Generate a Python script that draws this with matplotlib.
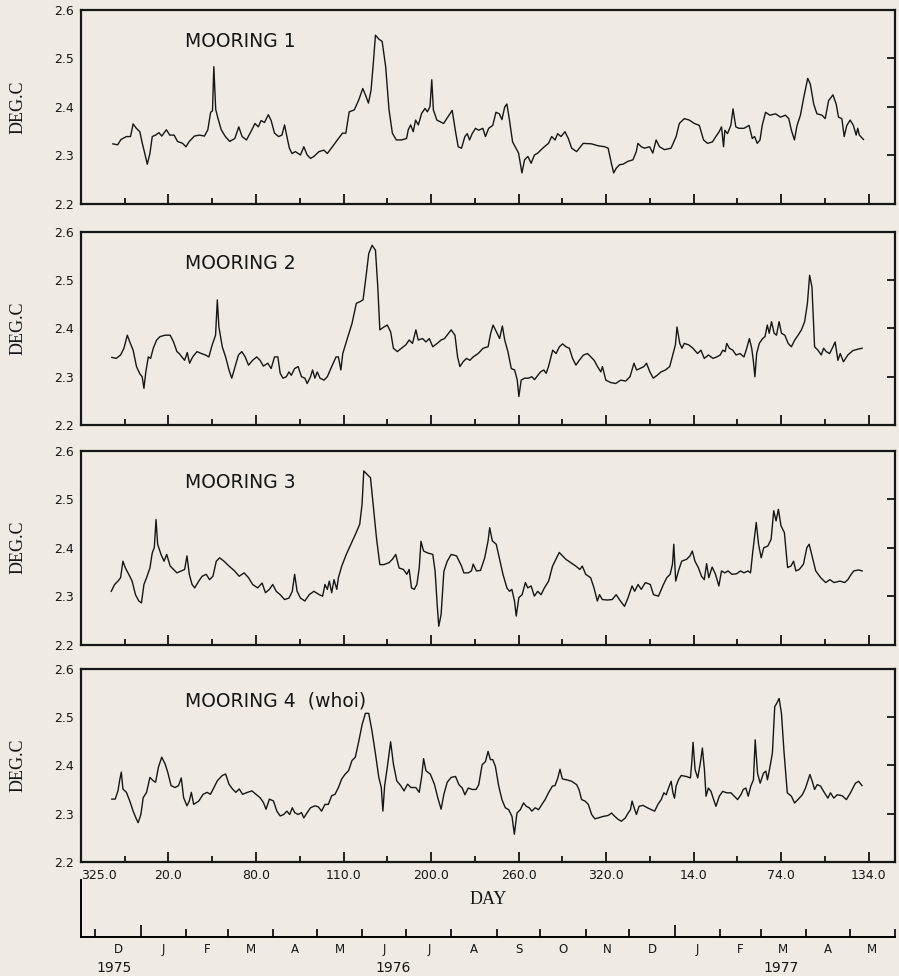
import numpy as np
import pandas as pd
import matplotlib
matplotlib.use("Agg")
import matplotlib.pyplot as plt
from matplotlib.ticker import FixedLocator, NullFormatter
from matplotlib.transforms import blended_transform_factory

# time axis: days counted from day 325 of 1975 (21 Nov 1975)
start = pd.Timestamp("1975-11-21")

# (day, deg C)
mooring1 = [
    (21.9, 2.324), (25.2, 2.322), (27.5, 2.333), (31.2, 2.339), (34.0, 2.339), (35.8, 2.365), (38.0, 2.356),
    (40.4, 2.349), (42.0, 2.326), (43.8, 2.304), (45.5, 2.282), (47.3, 2.304), (48.9, 2.339), (51.2, 2.342),
    (53.5, 2.347), (55.4, 2.340), (58.6, 2.353), (60.9, 2.342), (63.9, 2.342), (66.2, 2.329), (69.7, 2.325),
    (72.0, 2.318), (74.3, 2.329), (77.8, 2.340), (81.2, 2.342), (84.7, 2.340), (87.0, 2.353), (88.9, 2.389),
    (90.2, 2.392), (91.1, 2.483), (92.4, 2.395), (93.9, 2.377), (96.2, 2.353), (99.0, 2.339), (102.0, 2.329),
    (105.5, 2.335), (108.2, 2.359), (110.5, 2.339), (113.5, 2.332), (116.5, 2.349), (119.3, 2.366),
    (121.6, 2.359), (123.5, 2.372), (125.8, 2.368), (128.5, 2.384), (130.4, 2.372), (132.7, 2.346),
    (135.5, 2.339), (137.8, 2.342), (139.6, 2.363), (141.2, 2.339), (142.9, 2.315), (144.7, 2.304),
    (147.0, 2.308), (150.5, 2.301), (152.8, 2.318), (155.1, 2.301), (157.4, 2.294), (159.7, 2.298),
    (163.2, 2.308), (166.6, 2.311), (168.9, 2.304), (172.4, 2.318), (175.8, 2.332), (179.3, 2.346),
    (181.6, 2.346), (183.9, 2.390), (187.4, 2.394), (190.4, 2.414), (193.2, 2.438), (195.0, 2.425),
    (197.1, 2.408), (198.9, 2.435), (200.6, 2.497), (201.9, 2.548), (204.2, 2.540), (206.5, 2.535),
    (208.9, 2.483), (211.2, 2.394), (213.5, 2.346), (216.2, 2.332), (219.7, 2.332), (223.2, 2.335),
    (224.4, 2.353), (226.0, 2.363), (227.8, 2.349), (229.4, 2.373), (231.3, 2.363), (233.6, 2.387),
    (235.9, 2.397), (237.5, 2.390), (239.3, 2.401), (240.5, 2.456), (241.6, 2.394), (244.0, 2.373),
    (248.6, 2.366), (254.5, 2.393), (256.8, 2.349), (258.6, 2.318), (260.9, 2.315), (263.2, 2.339),
    (264.8, 2.345), (266.4, 2.332), (268.2, 2.345), (270.5, 2.356), (272.7, 2.352), (275.5, 2.356),
    (277.3, 2.339), (279.5, 2.356), (282.3, 2.362), (284.5, 2.389), (286.8, 2.386), (288.6, 2.374),
    (290.5, 2.400), (292.0, 2.406), (293.6, 2.376), (295.9, 2.328), (297.7, 2.318), (300.0, 2.305),
    (302.3, 2.264), (304.1, 2.291), (306.4, 2.298), (308.6, 2.284), (310.9, 2.301), (313.2, 2.305),
    (315.5, 2.312), (317.7, 2.318), (320.5, 2.325), (322.7, 2.339), (325.0, 2.332), (326.8, 2.345),
    (329.1, 2.339), (331.8, 2.349), (334.1, 2.335), (336.4, 2.315), (339.8, 2.308), (344.3, 2.325),
    (350.0, 2.324), (354.5, 2.320), (359.1, 2.318), (361.4, 2.315), (363.6, 2.284), (365.2, 2.264),
    (367.0, 2.274), (369.3, 2.281), (371.6, 2.282), (375.0, 2.288), (378.4, 2.291), (380.7, 2.308),
    (381.8, 2.325), (384.1, 2.318), (386.4, 2.315), (389.8, 2.318), (392.0, 2.305), (394.3, 2.332),
    (396.6, 2.318), (400.0, 2.312), (404.5, 2.315), (408.0, 2.339), (410.2, 2.366), (413.6, 2.376),
    (417.0, 2.373), (420.5, 2.366), (423.9, 2.362), (426.8, 2.332), (429.5, 2.325), (432.9, 2.328),
    (435.2, 2.339), (437.5, 2.349), (439.1, 2.359), (440.5, 2.318), (441.4, 2.352), (443.2, 2.345),
    (445.5, 2.362), (447.0, 2.396), (448.9, 2.359), (451.1, 2.356), (454.5, 2.356), (458.0, 2.362),
    (460.2, 2.335), (461.8, 2.339), (463.6, 2.325), (465.5, 2.332), (467.0, 2.362), (469.3, 2.389),
    (472.3, 2.383), (476.1, 2.386), (479.5, 2.379), (482.9, 2.383), (485.2, 2.376), (487.0, 2.352),
    (489.1, 2.332), (490.9, 2.362), (493.2, 2.383), (495.5, 2.420), (498.2, 2.459), (500.0, 2.447),
    (502.3, 2.406), (504.5, 2.386), (508.0, 2.383), (510.2, 2.376), (512.5, 2.413), (515.5, 2.425),
    (517.7, 2.406), (519.3, 2.379), (521.6, 2.376), (523.2, 2.339), (525.0, 2.362), (527.3, 2.373),
    (529.5, 2.362), (531.4, 2.342), (532.5, 2.356), (533.6, 2.342), (536.4, 2.333),
]

mooring2 = [
    (21.2, 2.340), (24.2, 2.338), (27.2, 2.345), (29.5, 2.359), (31.8, 2.386), (33.5, 2.372), (35.8, 2.355),
    (38.1, 2.321), (40.4, 2.306), (42.0, 2.300), (43.2, 2.276), (44.5, 2.310), (46.2, 2.341), (47.8, 2.338),
    (49.6, 2.359), (51.9, 2.376), (54.2, 2.383), (57.7, 2.386), (61.2, 2.386), (63.5, 2.372), (65.8, 2.352),
    (67.4, 2.348), (69.2, 2.341), (71.1, 2.334), (72.9, 2.350), (74.5, 2.328), (76.6, 2.341), (79.6, 2.352),
    (82.6, 2.348), (85.4, 2.345), (87.7, 2.341), (90.0, 2.366), (92.3, 2.386), (93.5, 2.459), (94.6, 2.403),
    (96.9, 2.362), (99.2, 2.341), (101.5, 2.314), (103.4, 2.297), (105.7, 2.321), (108.0, 2.345),
    (110.3, 2.352), (112.6, 2.341), (114.9, 2.324), (117.7, 2.334), (120.5, 2.341), (122.8, 2.334),
    (125.1, 2.322), (128.1, 2.328), (130.4, 2.317), (132.7, 2.341), (135.0, 2.341), (136.6, 2.307),
    (138.5, 2.297), (140.8, 2.300), (142.6, 2.310), (144.2, 2.303), (146.5, 2.317), (148.9, 2.321),
    (151.2, 2.300), (153.5, 2.297), (155.1, 2.286), (157.4, 2.300), (158.8, 2.314), (160.4, 2.297),
    (162.0, 2.310), (163.9, 2.297), (166.6, 2.293), (168.9, 2.300), (171.9, 2.321), (174.9, 2.341),
    (176.5, 2.341), (178.2, 2.314), (179.5, 2.348), (182.3, 2.376), (185.8, 2.410), (188.8, 2.452),
    (191.1, 2.455), (193.4, 2.459), (195.7, 2.514), (197.3, 2.555), (199.6, 2.572), (201.9, 2.562),
    (203.5, 2.486), (204.9, 2.397), (207.7, 2.403), (210.0, 2.407), (212.3, 2.393), (214.2, 2.359),
    (216.9, 2.352), (219.7, 2.359), (222.7, 2.366), (225.0, 2.376), (227.3, 2.369), (229.6, 2.397),
    (231.2, 2.376), (234.2, 2.379), (236.5, 2.372), (238.8, 2.379), (241.2, 2.362), (244.2, 2.369),
    (246.9, 2.376), (249.2, 2.379), (253.8, 2.397), (256.4, 2.386), (258.2, 2.341), (259.8, 2.321),
    (262.0, 2.331), (264.3, 2.338), (266.6, 2.334), (268.9, 2.341), (272.3, 2.348), (275.7, 2.359),
    (279.1, 2.362), (280.9, 2.390), (282.5, 2.407), (284.8, 2.393), (287.0, 2.379), (288.9, 2.405),
    (290.5, 2.376), (292.7, 2.352), (295.0, 2.317), (297.3, 2.314), (299.1, 2.293), (300.2, 2.259),
    (301.8, 2.293), (304.1, 2.297), (306.8, 2.297), (309.1, 2.300), (310.9, 2.294), (313.2, 2.303),
    (315.0, 2.310), (317.3, 2.314), (318.9, 2.307), (320.5, 2.321), (323.4, 2.355), (325.7, 2.348),
    (328.0, 2.362), (330.2, 2.368), (332.5, 2.362), (334.8, 2.359), (337.0, 2.338), (339.3, 2.324),
    (341.6, 2.334), (344.5, 2.345), (347.3, 2.348), (349.5, 2.341), (351.8, 2.334), (354.1, 2.321),
    (356.4, 2.310), (357.5, 2.321), (359.8, 2.293), (363.2, 2.288), (366.6, 2.286), (370.0, 2.293),
    (373.4, 2.291), (376.4, 2.300), (379.1, 2.328), (380.9, 2.314), (383.2, 2.317), (385.9, 2.321),
    (387.7, 2.328), (390.0, 2.310), (392.3, 2.297), (395.0, 2.303), (397.7, 2.310), (400.7, 2.314),
    (403.6, 2.321), (405.9, 2.348), (407.5, 2.366), (408.6, 2.403), (410.5, 2.369), (412.0, 2.359),
    (413.6, 2.369), (416.6, 2.366), (419.5, 2.359), (422.7, 2.348), (425.0, 2.355), (427.3, 2.338),
    (430.2, 2.345), (433.2, 2.338), (435.9, 2.341), (438.2, 2.345), (440.0, 2.355), (441.6, 2.352),
    (442.7, 2.369), (444.5, 2.359), (446.8, 2.355), (449.1, 2.345), (451.8, 2.348), (454.5, 2.341),
    (456.4, 2.359), (458.2, 2.379), (459.8, 2.359), (460.9, 2.334), (462.0, 2.300), (463.2, 2.348),
    (465.0, 2.369), (467.3, 2.379), (468.9, 2.383), (470.5, 2.407), (471.8, 2.390), (473.4, 2.414),
    (475.2, 2.390), (476.8, 2.386), (478.6, 2.414), (480.2, 2.390), (482.5, 2.386), (484.8, 2.369),
    (487.0, 2.362), (489.3, 2.376), (491.6, 2.386), (493.9, 2.397), (496.1, 2.414), (498.0, 2.452),
    (499.5, 2.510), (501.1, 2.486), (502.9, 2.362), (505.2, 2.355), (507.5, 2.345), (509.1, 2.359),
    (510.9, 2.352), (513.2, 2.348), (515.5, 2.362), (517.0, 2.372), (518.9, 2.334), (520.5, 2.348),
    (522.7, 2.331), (525.7, 2.345), (529.1, 2.354), (532.5, 2.357), (535.5, 2.359),
]

mooring3 = [
    (20.8, 2.310), (23.1, 2.324), (25.4, 2.331), (27.2, 2.338), (28.8, 2.372), (30.5, 2.358), (32.8, 2.345),
    (35.1, 2.331), (37.4, 2.303), (39.7, 2.290), (41.5, 2.286), (43.2, 2.324), (45.0, 2.338), (47.3, 2.358),
    (48.9, 2.389), (50.3, 2.400), (51.5, 2.458), (52.6, 2.407), (54.9, 2.386), (57.0, 2.372), (58.8, 2.386),
    (61.2, 2.362), (63.5, 2.355), (65.8, 2.348), (68.8, 2.352), (71.1, 2.355), (72.7, 2.383), (74.3, 2.345),
    (76.2, 2.324), (78.0, 2.317), (80.8, 2.331), (83.1, 2.341), (85.9, 2.345), (88.2, 2.334), (90.5, 2.341),
    (92.8, 2.372), (95.1, 2.379), (98.1, 2.372), (101.5, 2.362), (105.0, 2.353), (108.5, 2.341),
    (111.9, 2.348), (114.9, 2.338), (117.7, 2.324), (121.2, 2.317), (124.2, 2.327), (126.5, 2.307),
    (129.2, 2.314), (131.5, 2.324), (133.9, 2.310), (136.6, 2.303), (139.6, 2.293), (142.6, 2.296),
    (144.9, 2.310), (146.5, 2.345), (148.2, 2.310), (150.5, 2.296), (153.5, 2.290), (156.5, 2.303),
    (159.7, 2.310), (163.4, 2.303), (165.7, 2.300), (167.3, 2.324), (168.9, 2.314), (170.3, 2.331),
    (171.9, 2.307), (173.5, 2.334), (175.4, 2.314), (176.5, 2.338), (178.8, 2.362), (181.9, 2.386),
    (185.1, 2.407), (188.1, 2.427), (191.1, 2.448), (192.7, 2.489), (193.9, 2.558), (196.2, 2.551),
    (198.5, 2.544), (200.3, 2.489), (202.6, 2.420), (204.9, 2.365), (207.7, 2.365), (211.2, 2.369),
    (213.5, 2.376), (215.8, 2.386), (218.1, 2.358), (221.1, 2.355), (223.4, 2.345), (225.0, 2.355),
    (226.6, 2.317), (228.5, 2.314), (230.3, 2.324), (231.9, 2.358), (233.1, 2.413), (234.9, 2.393),
    (237.7, 2.389), (241.2, 2.386), (242.8, 2.351), (244.2, 2.283), (245.3, 2.238), (246.9, 2.262),
    (248.8, 2.351), (251.1, 2.372), (253.8, 2.386), (257.5, 2.383), (259.3, 2.372), (260.9, 2.362),
    (262.5, 2.348), (265.5, 2.348), (267.7, 2.352), (268.9, 2.366), (271.1, 2.352), (273.9, 2.353),
    (276.8, 2.379), (279.1, 2.414), (280.2, 2.441), (282.0, 2.414), (284.7, 2.407), (287.0, 2.376),
    (289.3, 2.345), (292.0, 2.317), (293.8, 2.310), (295.4, 2.314), (297.2, 2.290), (298.4, 2.259),
    (300.2, 2.297), (302.4, 2.303), (304.7, 2.328), (306.3, 2.317), (308.6, 2.321), (310.8, 2.300),
    (313.1, 2.310), (315.4, 2.303), (317.7, 2.317), (320.6, 2.331), (323.3, 2.362), (325.6, 2.376),
    (327.9, 2.390), (330.1, 2.383), (332.4, 2.376), (335.8, 2.369), (339.2, 2.362), (342.0, 2.355),
    (343.7, 2.362), (346.0, 2.345), (349.4, 2.338), (351.7, 2.317), (354.0, 2.290), (355.5, 2.303),
    (357.4, 2.293), (360.8, 2.292), (364.2, 2.293), (366.9, 2.303), (369.8, 2.290), (372.6, 2.279),
    (375.1, 2.297), (377.8, 2.321), (379.6, 2.310), (381.9, 2.324), (384.1, 2.314), (386.9, 2.328),
    (390.3, 2.324), (392.5, 2.303), (395.9, 2.300), (399.3, 2.324), (401.6, 2.338), (403.9, 2.345),
    (405.5, 2.366), (406.4, 2.407), (407.7, 2.331), (409.6, 2.352), (411.8, 2.372), (415.2, 2.376),
    (417.5, 2.383), (419.1, 2.393), (420.9, 2.372), (423.2, 2.359), (425.4, 2.341), (427.3, 2.334),
    (428.9, 2.367), (430.4, 2.338), (432.7, 2.360), (435.0, 2.345), (437.3, 2.321), (439.1, 2.352),
    (441.3, 2.348), (443.6, 2.352), (446.3, 2.345), (449.3, 2.346), (452.2, 2.352), (454.5, 2.348),
    (457.2, 2.352), (459.0, 2.348), (460.6, 2.393), (462.9, 2.452), (464.5, 2.407), (466.3, 2.379),
    (468.1, 2.400), (470.8, 2.403), (473.1, 2.417), (474.9, 2.476), (476.5, 2.455), (478.1, 2.479),
    (479.9, 2.445), (482.2, 2.431), (484.4, 2.359), (486.7, 2.362), (488.5, 2.372), (490.1, 2.352),
    (492.4, 2.355), (495.3, 2.366), (497.6, 2.400), (499.2, 2.407), (501.5, 2.379), (503.7, 2.352),
    (507.1, 2.338), (510.5, 2.328), (513.4, 2.334), (516.2, 2.328), (520.3, 2.331), (523.5, 2.328),
    (525.7, 2.334), (528.0, 2.345), (529.8, 2.352), (533.2, 2.354), (535.5, 2.352),
]

mooring4 = [
    (21.2, 2.330), (23.5, 2.330), (25.4, 2.347), (26.5, 2.368), (27.7, 2.386), (28.8, 2.351), (31.2, 2.344),
    (33.5, 2.326), (35.8, 2.305), (38.1, 2.288), (39.2, 2.281), (41.1, 2.298), (42.7, 2.333), (45.0, 2.344),
    (47.3, 2.375), (49.6, 2.368), (51.2, 2.365), (53.1, 2.396), (55.4, 2.417), (57.7, 2.403), (59.5, 2.386),
    (61.8, 2.358), (64.6, 2.354), (66.9, 2.358), (68.8, 2.374), (70.4, 2.333), (72.7, 2.316), (74.3, 2.326),
    (75.7, 2.344), (77.3, 2.319), (80.8, 2.326), (83.8, 2.340), (86.5, 2.344), (88.8, 2.340), (91.2, 2.354),
    (93.5, 2.368), (96.9, 2.379), (99.2, 2.382), (101.5, 2.361), (103.9, 2.351), (106.2, 2.344),
    (108.5, 2.351), (110.8, 2.340), (114.2, 2.344), (117.2, 2.347), (120.0, 2.340), (122.8, 2.333),
    (125.1, 2.323), (126.9, 2.309), (129.2, 2.330), (132.0, 2.326), (134.3, 2.305), (136.6, 2.295),
    (139.0, 2.298), (141.2, 2.305), (143.1, 2.298), (144.9, 2.312), (146.5, 2.302), (148.9, 2.298),
    (151.2, 2.302), (152.8, 2.291), (155.1, 2.302), (157.4, 2.312), (160.4, 2.316), (162.7, 2.314),
    (165.0, 2.305), (167.3, 2.319), (169.6, 2.319), (171.9, 2.337), (174.2, 2.340), (176.5, 2.354),
    (178.8, 2.372), (181.2, 2.382), (183.5, 2.389), (185.8, 2.410), (188.1, 2.417), (190.4, 2.449),
    (192.7, 2.484), (195.0, 2.508), (197.3, 2.508), (199.6, 2.470), (201.9, 2.424), (204.2, 2.375),
    (205.9, 2.354), (207.0, 2.305), (208.2, 2.358), (210.0, 2.396), (212.3, 2.449), (214.2, 2.403),
    (216.5, 2.368), (219.2, 2.358), (221.5, 2.347), (223.9, 2.361), (226.2, 2.354), (229.6, 2.354),
    (231.9, 2.344), (233.5, 2.375), (234.9, 2.414), (236.5, 2.389), (239.5, 2.382), (242.3, 2.361),
    (244.6, 2.333), (246.9, 2.309), (248.8, 2.340), (251.1, 2.365), (253.8, 2.375), (256.8, 2.377),
    (259.1, 2.360), (261.4, 2.353), (263.2, 2.339), (265.5, 2.353), (268.2, 2.350), (270.9, 2.350),
    (272.7, 2.360), (275.0, 2.401), (277.3, 2.408), (279.1, 2.429), (280.7, 2.412), (282.3, 2.412),
    (284.1, 2.398), (286.4, 2.357), (288.6, 2.329), (290.9, 2.312), (293.2, 2.308), (295.5, 2.294),
    (297.1, 2.257), (298.9, 2.301), (301.2, 2.308), (303.4, 2.322), (305.3, 2.315), (307.3, 2.312),
    (309.1, 2.305), (311.4, 2.312), (313.7, 2.308), (316.0, 2.319), (318.2, 2.329), (320.5, 2.343),
    (323.2, 2.357), (325.0, 2.358), (326.9, 2.374), (328.4, 2.392), (330.0, 2.372), (333.0, 2.370),
    (336.4, 2.367), (339.8, 2.360), (341.4, 2.350), (343.2, 2.329), (345.5, 2.326), (347.8, 2.319),
    (350.1, 2.298), (352.3, 2.289), (354.6, 2.291), (358.0, 2.294), (361.4, 2.296), (363.7, 2.301),
    (366.0, 2.294), (368.2, 2.288), (370.5, 2.284), (373.2, 2.291), (375.1, 2.301), (376.7, 2.308),
    (377.8, 2.326), (379.2, 2.312), (380.8, 2.298), (382.6, 2.315), (385.3, 2.317), (388.3, 2.312),
    (391.0, 2.308), (393.3, 2.305), (395.5, 2.319), (397.8, 2.329), (399.6, 2.343), (401.2, 2.339),
    (402.8, 2.353), (404.6, 2.367), (405.8, 2.343), (406.9, 2.332), (408.0, 2.357), (409.6, 2.370),
    (411.5, 2.379), (414.9, 2.377), (417.8, 2.374), (418.7, 2.405), (419.6, 2.448), (421.0, 2.391),
    (422.8, 2.374), (424.6, 2.405), (426.0, 2.436), (427.4, 2.391), (428.5, 2.336), (430.1, 2.353),
    (431.9, 2.346), (433.7, 2.329), (435.3, 2.315), (437.6, 2.336), (439.9, 2.346), (442.8, 2.343),
    (445.6, 2.343), (447.8, 2.336), (450.1, 2.329), (452.4, 2.339), (454.0, 2.350), (455.8, 2.353),
    (457.4, 2.336), (459.2, 2.357), (461.0, 2.370), (462.2, 2.453), (463.8, 2.384), (465.6, 2.363),
    (467.9, 2.384), (469.5, 2.388), (470.6, 2.370), (472.4, 2.398), (474.0, 2.426), (475.6, 2.522),
    (477.0, 2.529), (478.6, 2.539), (480.2, 2.508), (482.0, 2.426), (484.2, 2.343), (487.0, 2.336),
    (489.2, 2.322), (491.5, 2.329), (494.5, 2.339), (496.7, 2.353), (499.7, 2.381), (501.3, 2.367),
    (502.9, 2.350), (504.7, 2.360), (507.0, 2.357), (509.7, 2.343), (512.0, 2.332), (513.8, 2.343),
    (516.1, 2.332), (518.4, 2.339), (521.8, 2.337), (524.7, 2.329), (527.5, 2.343), (530.9, 2.363),
    (533.1, 2.367), (535.4, 2.358),
]

panel_titles = ["MOORING 1", "MOORING 2", "MOORING 3", "MOORING 4  (whoi)"]
series = [mooring1, mooring2, mooring3, mooring4]

y_ticks = [2.2, 2.3, 2.4, 2.5, 2.6]
day_labels = ["325.0", "20.0", "80.0", "110.0", "200.0", "260.0", "320.0", "14.0", "74.0", "134.0"]
month_letters = ["D", "J", "F", "M", "A", "M", "J", "J", "A", "S", "O", "N", "D", "J", "F", "M", "A", "M"]
year_labels = ["1975", "1976", "1977"]
year_dates = ["1975-12-14", "1976-06-22", "1977-03-15"]

bg = "#efebe4"
ink = "#161616"
x_end = 558

fig = plt.figure(figsize=(8.99, 9.76), dpi=100, facecolor=bg)

rects = [
    [0.090, 0.791, 0.9055, 0.1988],
    [0.090, 0.5645, 0.9055, 0.1980],
    [0.090, 0.3395, 0.9055, 0.1988],
    [0.090, 0.1171, 0.9055, 0.1974],
]

for i, (rect, data, title) in enumerate(zip(rects, series, panel_titles)):
    ax = fig.add_axes(rect, facecolor=bg)
    arr = np.array(data)
    ax.plot(arr[:, 0], arr[:, 1], color=ink, lw=1.0)
    ax.set_xlim(0, x_end)
    ax.set_ylim(2.2, 2.6)
    for sp in ax.spines.values():
        sp.set_linewidth(1.6)
        sp.set_color(ink)

    ax.set_yticks(y_ticks)
    ax.set_yticklabels([f"{v:.1f}" for v in y_ticks], fontsize=9, color=ink)
    ax.tick_params(axis="y", left=False, right=True, direction="in", length=6, width=1.2, pad=5)

    ax.xaxis.set_major_locator(FixedLocator(np.arange(0, 541, 60)))
    ax.xaxis.set_minor_locator(FixedLocator(np.arange(30, 541, 60)))
    ax.xaxis.set_minor_formatter(NullFormatter())
    ax.tick_params(axis="x", which="major", direction="in", length=7, width=1.2, pad=5)
    ax.tick_params(axis="x", which="minor", direction="in", length=4, width=1.2)
    if i == 3:
        ax.set_xticklabels(day_labels, fontsize=9, color=ink)
        ax.get_xticklabels()[0].set_horizontalalignment("left")
    else:
        ax.set_xticklabels([])

    ax.text(0.128, 0.835, title, transform=ax.transAxes, fontsize=13.5,
            family="DejaVu Sans", color=ink, va="center", ha="left")
    ax.text(-0.077, 0.5, "DEG.C", transform=ax.transAxes, rotation=90,
            fontsize=13, family="Liberation Serif", color=ink, va="center", ha="center")

fig.text(0.543, 0.078, "DAY", fontsize=13, family="Liberation Serif", color=ink,
         ha="center", va="center")

# calendar axis underneath
axm = fig.add_axes([0.090, 0.040, 0.9055, 0.058], facecolor="none")
axm.set_xlim(0, x_end)
axm.set_ylim(0, 1)
axm.spines["top"].set_visible(False)
axm.spines["right"].set_visible(False)
axm.spines["left"].set_linewidth(1.4)
axm.spines["bottom"].set_linewidth(1.4)
axm.set_yticks([])

month_starts = pd.date_range("1975-12-01", "1977-06-01", freq="MS")
month_pos = np.array((month_starts - start).days, dtype=float)
is_jan = month_starts.month == 1
axm.xaxis.set_major_locator(FixedLocator(month_pos[is_jan]))
axm.xaxis.set_minor_locator(FixedLocator(month_pos[~is_jan]))
axm.xaxis.set_major_formatter(NullFormatter())
axm.xaxis.set_minor_formatter(NullFormatter())
axm.tick_params(axis="x", which="major", direction="in", length=9, width=1.2)
axm.tick_params(axis="x", which="minor", direction="in", length=6, width=1.2)

trans = blended_transform_factory(axm.transData, axm.transAxes)
mid = (month_pos[:-1] + month_pos[1:]) / 2
for x, letter in zip(mid, month_letters):
    axm.text(x, -0.22, letter, transform=trans, fontsize=8.5, color=ink, ha="center", va="center")
for d, lab in zip(year_dates, year_labels):
    x = (pd.Timestamp(d) - start).days
    axm.text(x, -0.55, lab, transform=trans, fontsize=10, color=ink, ha="center", va="center")

fig.savefig("out.png", dpi=100, facecolor=bg)
